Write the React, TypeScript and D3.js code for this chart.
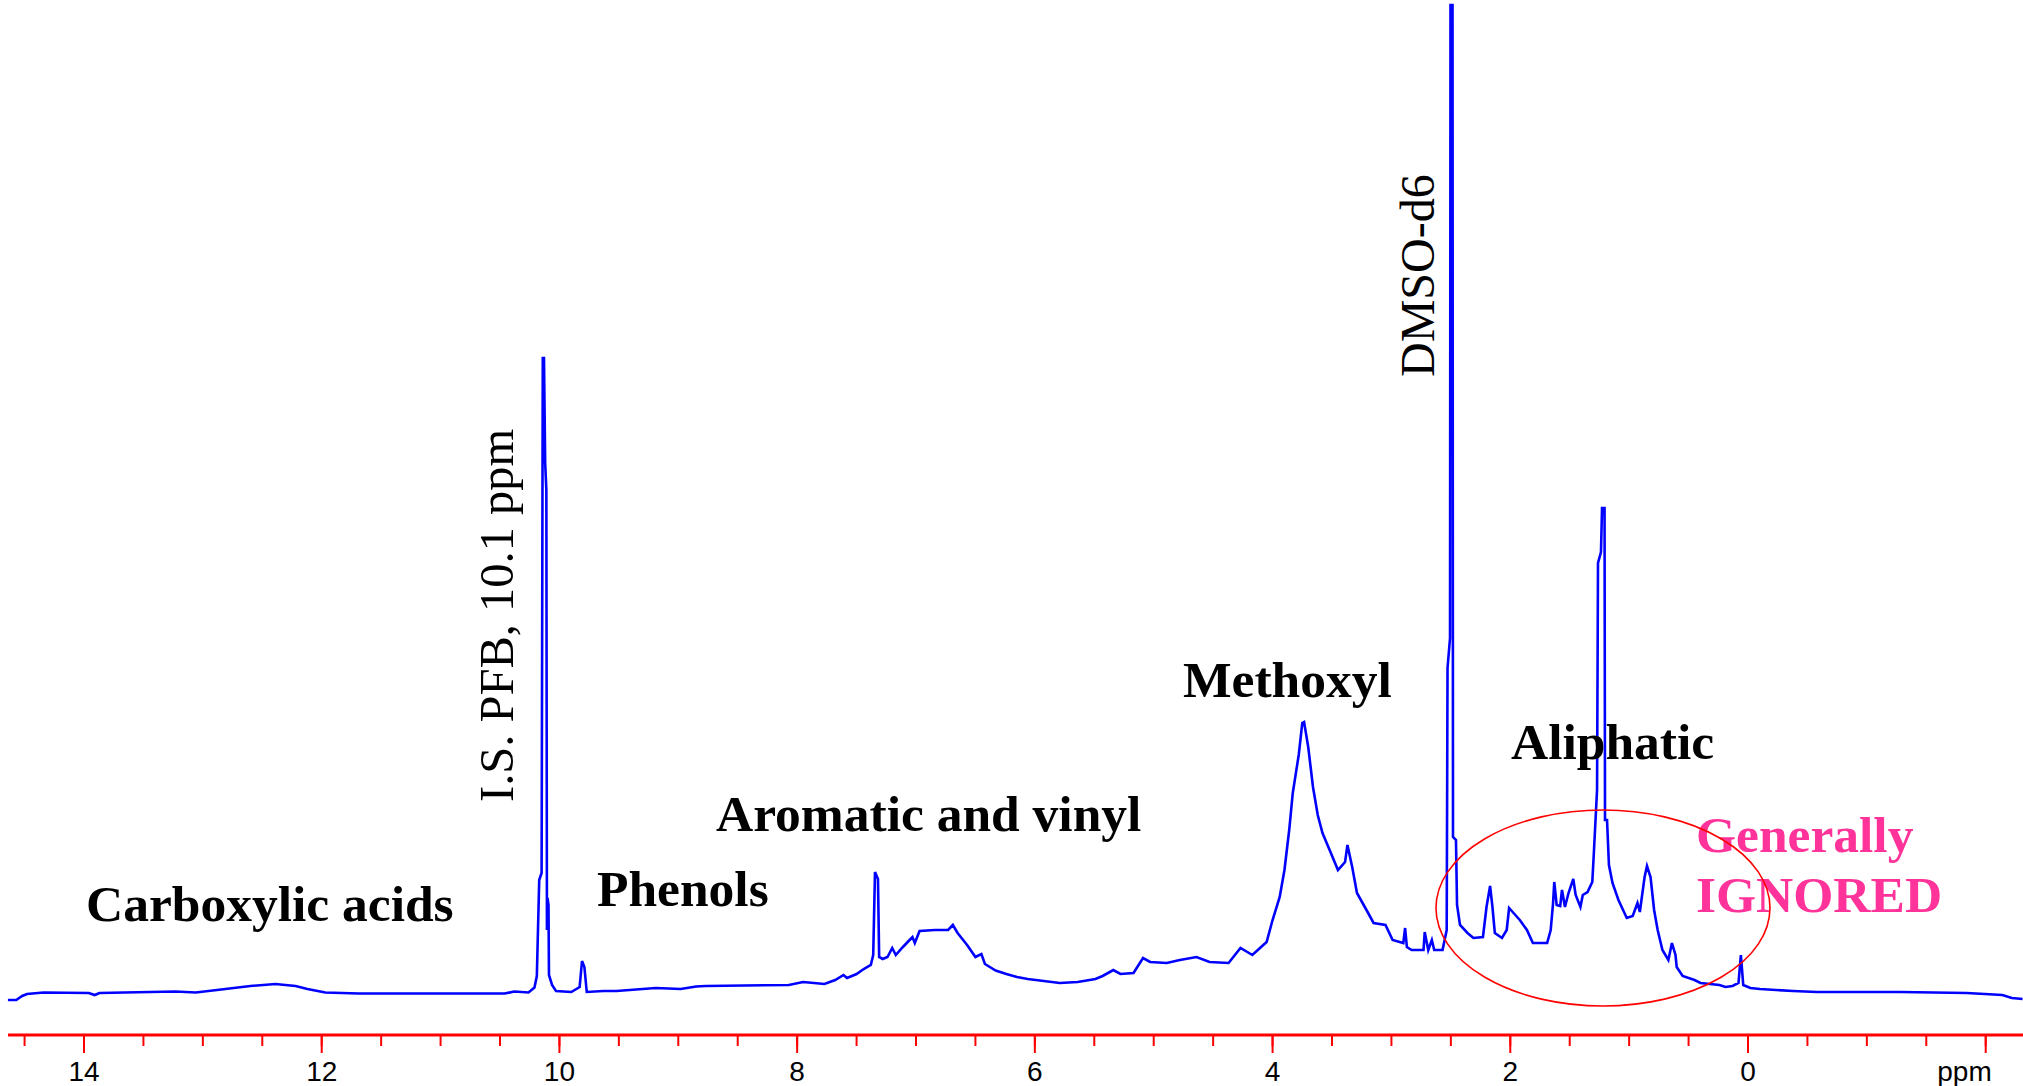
import React from 'react';
import * as d3 from 'd3';

// 1H NMR spectrum: chemical shift (ppm) and intensity (arbitrary units)
const shifts = [
  14.64, 14.57, 14.52, 14.48, 14.34, 13.96, 13.91, 13.87, 13.23, 13.06,
  12.81, 12.6, 12.39, 12.22, 12.12, 11.97, 11.69, 10.46, 10.38, 10.26,
  10.21, 10.19, 10.17, 10.15, 10.14, 10.13, 10.12, 10.11, 10.105, 10.1,
  10.092, 10.088, 10.062, 10.029, 9.9, 9.83, 9.81, 9.79, 9.77, 9.63,
  9.52, 9.19, 8.98, 8.85, 8.77, 8.07, 7.95, 7.77, 7.68, 7.61,
  7.58, 7.5, 7.44, 7.38, 7.36, 7.345, 7.32, 7.31, 7.28, 7.24,
  7.2, 7.17, 7.11, 7.07, 7.03, 7.01, 6.97, 6.84, 6.73, 6.69,
  6.65, 6.57, 6.5, 6.45, 6.42, 6.33, 6.24, 6.15, 6.06, 5.79,
  5.64, 5.49, 5.43, 5.34, 5.28, 5.17, 5.09, 5.03, 4.89, 4.78,
  4.64, 4.53, 4.37, 4.27, 4.17, 4.05, 4.0, 3.94, 3.9, 3.86,
  3.83, 3.78, 3.75, 3.735, 3.7, 3.68, 3.66, 3.62, 3.58, 3.52,
  3.45, 3.39, 3.37, 3.33, 3.29, 3.21, 3.15, 3.05, 2.99, 2.9,
  2.885, 2.87, 2.83, 2.73, 2.72, 2.69, 2.66, 2.64, 2.57, 2.535,
  2.528, 2.507, 2.503, 2.486, 2.482, 2.457, 2.448, 2.423, 2.36, 2.31,
  2.23, 2.2, 2.17, 2.15, 2.13, 2.07, 2.03, 2.01, 1.98, 1.92,
  1.86, 1.81, 1.69, 1.66, 1.64, 1.63, 1.61, 1.58, 1.565, 1.54,
  1.51, 1.47, 1.45, 1.41, 1.39, 1.35, 1.31, 1.3, 1.27, 1.262,
  1.237, 1.228, 1.207, 1.203, 1.186, 1.17, 1.14, 1.09, 1.02, 0.97,
  0.93, 0.91, 0.87, 0.85, 0.82, 0.79, 0.76, 0.72, 0.67, 0.64,
  0.61, 0.6, 0.55, 0.45, 0.4, 0.24, 0.19, 0.13, 0.08, 0.06,
  0.04, -0.02, -0.1, -0.38, -0.58, -1.28, -1.84, -2.14, -2.22, -2.31
];

const intensity = [
  -0.5, -0.5, -0.1, 0.1, 0.25, 0.2, 0.0, 0.2, 0.35, 0.25,
  0.6, 0.9, 1.1, 0.9, 0.6, 0.25, 0.15, 0.15, 0.35, 0.25,
  0.75, 1.9, 11.5, 12.2, 63.7, 63.7, 53.2, 50.5, 6.5, 9.7,
  9.0, 2.0, 1.0, 0.4, 0.3, 0.8, 3.4, 2.8, 0.3, 0.4,
  0.4, 0.7, 0.6, 0.85, 0.9, 1.0, 1.3, 1.1, 1.5, 2.0,
  1.7, 2.1, 2.6, 3.0, 4.0, 12.3, 11.6, 3.8, 3.6, 3.8,
  4.7, 4.0, 4.8, 5.3, 5.8, 5.2, 6.4, 6.5, 6.5, 7.0,
  6.2, 5.0, 3.8, 4.1, 3.1, 2.45, 2.1, 1.8, 1.6, 1.2,
  1.3, 1.6, 1.9, 2.5, 2.1, 2.2, 3.7, 3.3, 3.2, 3.5,
  3.8, 3.3, 3.2, 4.7, 4.0, 5.3, 7.5, 9.8, 12.5, 16.5,
  20.2, 24.0, 27.2, 27.3, 24.8, 22.8, 20.8, 18.0, 16.2, 14.5,
  12.5, 13.3, 15.0, 12.8, 10.2, 8.5, 7.2, 7.0, 5.5, 5.2,
  6.7, 4.8, 4.5, 4.5, 6.3, 4.5, 5.5, 4.5, 4.5, 6.5,
  32.7, 35.7, 99, 99, 15.8, 15.5, 9.0, 7.0, 6.2, 5.7,
  5.8, 8.8, 10.9, 8.8, 6.2, 5.7, 6.5, 8.7, 8.3, 7.5,
  6.5, 5.2, 5.2, 6.5, 9.2, 11.3, 9.0, 8.9, 10.5, 8.8,
  10.2, 11.6, 10.0, 8.8, 10.0, 10.3, 11.3, 13.5, 20.5, 43.2,
  44.3, 48.7, 48.7, 17.5, 17.5, 13.0, 11.2, 9.5, 7.7, 7.9,
  9.2, 8.3, 11.8, 12.9, 11.8, 8.5, 6.5, 4.5, 3.5, 5.2,
  4.0, 2.8, 1.9, 1.5, 1.2, 1.0, 0.8, 0.9, 1.2, 4.0,
  1.0, 0.7, 0.6, 0.4, 0.3, 0.3, 0.2, 0.0, -0.3, -0.4
];

const majorTicks = [14, 12, 10, 8, 6, 4, 2, 0];
const unitTick = -2;
const minorTicks = d3.range(29, -5, -1).map((d) => d / 2);

const serif = '"Liberation Serif", "Times New Roman", Times, serif';
const sans = '"Liberation Sans", Arial, Helvetica, sans-serif';

const App = () => {
  const width = 2023;
  const height = 1086;
  const axisY = 1035;

  const x = d3.scaleLinear().domain([14, 0]).range([84, 1748]);
  const y = d3.scaleLinear().domain([0, 100]).range([995, -5]);

  const points: [number, number][] = shifts.map((s, i) => [s, intensity[i]]);
  const line = d3
    .line<[number, number]>()
    .x((d) => x(d[0]))
    .y((d) => y(d[1]));

  const boldLabel = { fontFamily: serif, fontWeight: 700, fontSize: 51.5 };

  return (
    <svg
      width={width}
      height={height}
      style={{ position: 'absolute', left: 0, top: 0, display: 'block', background: '#fff' }}
    >
      <path d={line(points) || ''} fill="none" stroke="#0000ff" strokeWidth={2.6} />

      {/* axis */}
      <line x1={8} x2={width} y1={axisY} y2={axisY} stroke="#ff0000" strokeWidth={3} />
      {minorTicks.map((t) => (
        <line key={'m' + t} x1={x(t)} x2={x(t)} y1={axisY} y2={axisY + 11} stroke="#ff0000" strokeWidth={2} />
      ))}
      {majorTicks.concat([unitTick]).map((t) => (
        <line key={'M' + t} x1={x(t)} x2={x(t)} y1={axisY} y2={axisY + 18} stroke="#ff0000" strokeWidth={2} />
      ))}
      {majorTicks.map((t) => (
        <text key={'l' + t} x={x(t)} y={1081} textAnchor="middle" fontFamily={sans} fontSize={28} fill="#000">
          {t}
        </text>
      ))}
      <text x={x(unitTick) + 6} y={1081} textAnchor="end" fontFamily={sans} fontSize={28} fill="#000">
        ppm
      </text>

      {/* region labels */}
      <text x={86} y={921} {...boldLabel}>Carboxylic acids</text>
      <text x={597} y={906} {...boldLabel}>Phenols</text>
      <text x={716} y={831} {...boldLabel}>Aromatic and vinyl</text>
      <text x={1183} y={697} {...boldLabel}>Methoxyl</text>
      <text x={1511} y={759} {...boldLabel}>Aliphatic</text>
      <text x={1696} y={852} {...boldLabel} fill="#ff3399">Generally</text>
      <text x={1696} y={912} {...boldLabel} fill="#ff3399">IGNORED</text>

      <text
        transform="translate(513,802) rotate(-90)"
        fontFamily={serif}
        fontSize={48.5}
        fill="#000"
      >
        I.S. PFB, 10.1 ppm
      </text>
      <text
        transform="translate(1434,377) rotate(-90)"
        fontFamily={serif}
        fontSize={48}
        fill="#000"
      >
        DMSO-d6
      </text>

      <ellipse cx={x(1.22)} cy={908} rx={167} ry={98} fill="none" stroke="#ff0000" strokeWidth={1.6} />
    </svg>
  );
};

export default App;
